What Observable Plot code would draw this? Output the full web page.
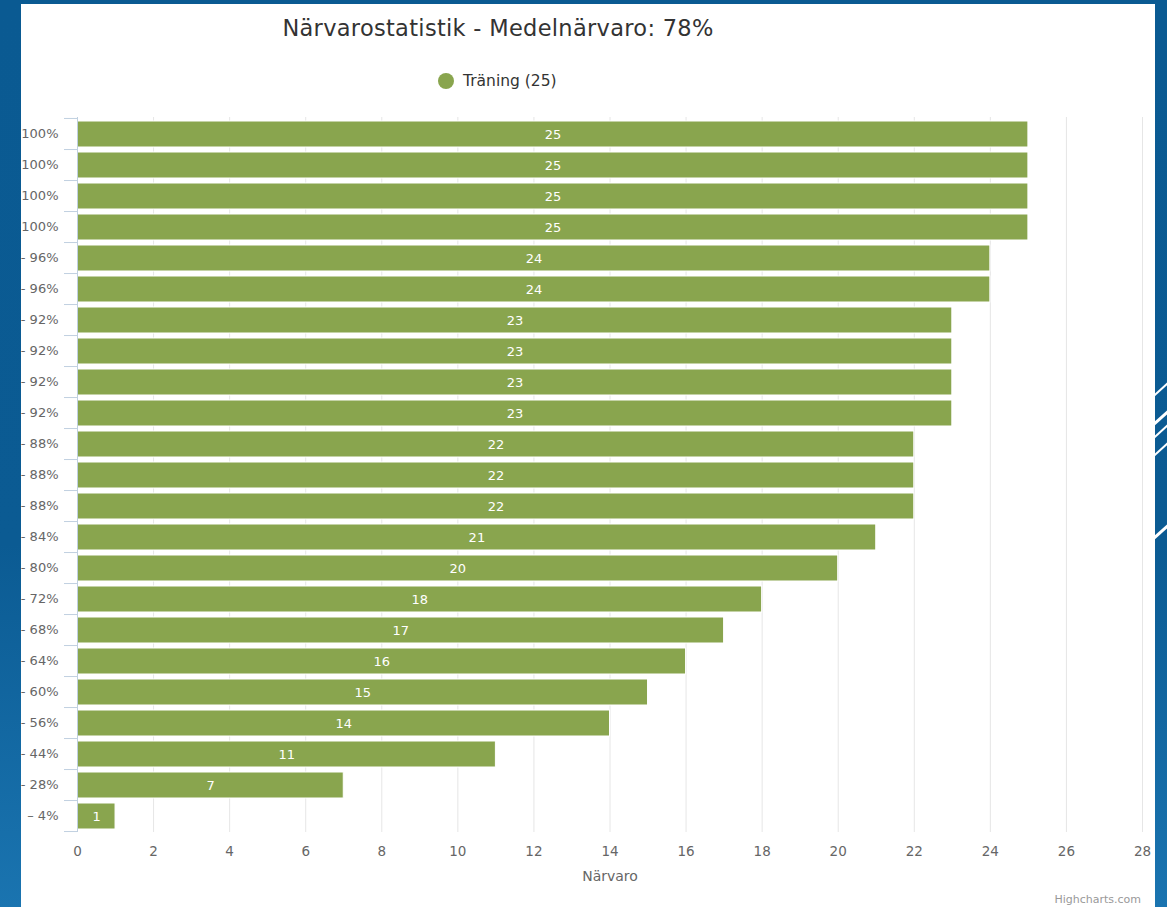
<!DOCTYPE html>
<html>
<head>
<meta charset="utf-8">
<script src="https://cdn.jsdelivr.net/npm/d3@7"></script>
<script src="https://cdn.jsdelivr.net/npm/@observablehq/plot@0.6"></script>
<style>
  html, body { margin: 0; padding: 0; }
  body {
    width: 1167px; height: 907px; overflow: hidden; position: relative;
    background: linear-gradient(180deg, #0a5a92 0%, #0b5b93 60%, #1a74b0 100%);
    font-family: "DejaVu Sans", Verdana, sans-serif;
  }
  #panel {
    position: absolute; left: 21px; top: 4px; width: 1134px; height: 903px;
    background: #ffffff;
  }
  #title {
    position: absolute; left: 0; top: 11px; width: 954px; text-align: center;
    font-size: 22.5px; color: #333333; letter-spacing: 0.3px;
  }
  #legend {
    position: absolute; left: 417px; top: 68px; font-size: 15.5px; color: #333333;
    display: flex; align-items: center;
  }
  #legend .dot { width: 16px; height: 16px; border-radius: 50%; background: #89a54e; margin-right: 9px; }
  #chart { position: absolute; left: 0; top: 96px; }
  #credit { position: absolute; right: 14px; bottom: 1px; font-size: 11px; color: #999999; }
  .deco { position: absolute; background: #ffffff; height: 2px; width: 40px; transform: rotate(-42deg); }
</style>
</head>
<body>
<div class="deco" style="left:1148px; top:382px;"></div>
<div class="deco" style="left:1148px; top:410px; height:3px;"></div>
<div class="deco" style="left:1148px; top:424px;"></div>
<div class="deco" style="left:1148px; top:442px;"></div>
<div class="deco" style="left:1148px; top:524px; height:3px;"></div>
<div id="panel">
  <div id="title">Närvarostatistik - Medelnärvaro: 78%</div>
  <div id="legend"><div class="dot"></div><span>Träning (25)</span></div>
  <div id="chart"></div>
  <div id="credit">Highcharts.com</div>
</div>
<script>
const seriesName = "Träning (25)";
const labels = ["100%","100%","100%","100%","- 96%","- 96%","- 92%","- 92%","- 92%","- 92%","- 88%","- 88%","- 88%","- 84%","- 80%","- 72%","- 68%","- 64%","- 60%","- 56%","- 44%","- 28%","– 4%"];
const values = [25,25,25,25,24,24,23,23,23,23,22,22,22,21,20,18,17,16,15,14,11,7,1];
const xTicks = [0,2,4,6,8,10,12,14,16,18,20,22,24,26,28];

const data = values.map((v, i) => ({idx: i, label: labels[i], value: v}));
const idxDomain = data.map(d => d.idx);
const H = 807, MT = 17, MB = 75;
const bandStep = (H - MT - MB) / idxDomain.length;

const chart = Plot.plot({
  width: 1134,
  height: H,
  marginLeft: 56,
  marginRight: 13,
  marginTop: MT,
  marginBottom: MB,
  style: {fontFamily: "DejaVu Sans, Verdana, sans-serif", background: "transparent"},
  x: {domain: [0, 28], ticks: xTicks},
  y: {domain: idxDomain, padding: 0},
  marks: [
    Plot.gridX(xTicks.filter(t => t > 0), {stroke: "#e6e6e6", strokeOpacity: 1}),
    Plot.barX(data, {x: "value", y: "idx", fill: "#89a54e", stroke: "#ffffff", strokeWidth: 1, insetTop: 3, insetBottom: 2}),
    Plot.text(data, {x: d => d.value / 2, y: "idx", dy: 0.5, text: d => String(d.value), fill: "#ffffff", fontSize: 13}),
    Plot.ruleX([0], {stroke: "#c0d0e0"}),
    Plot.axisX({ticks: xTicks, tickSize: 0, tickPadding: 14, fontSize: 13.5, color: "#666666", label: null}),
    Plot.axisY({tickSize: 0, tickPadding: 19, fontSize: 13, color: "#666666", tickFormat: i => labels[i], label: null}),
    Plot.axisY({tickSize: 13, stroke: "#c0d0e0", text: null, dy: bandStep / 2, label: null}),
    Plot.axisY([idxDomain[0]], {tickSize: 13, stroke: "#c0d0e0", text: null, dy: -bandStep / 2, label: null}),
    Plot.text(["Närvaro"], {frameAnchor: "bottom", dy: 48, fill: "#666666", fontSize: 14})
  ]
});
document.getElementById("chart").appendChild(chart);
</script>
</body>
</html>
